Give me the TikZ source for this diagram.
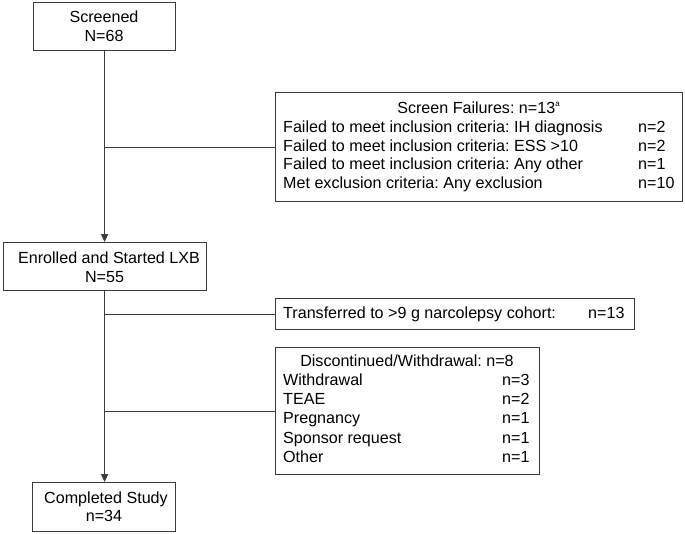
\documentclass[tikz,border=0pt]{standalone}
\usepackage{fontspec}
\setmainfont{Liberation Sans}
\usetikzlibrary{arrows.meta}
\definecolor{ln}{HTML}{3A3A3A}
\frenchspacing
\begin{document}
\begin{tikzpicture}[x=1pt,y=-1pt,
  box/.style={draw=ln,line width=1.2pt,inner sep=0pt,anchor=north west},
  txt/.style={inner sep=0pt,font=\fontsize{16.1}{18}\selectfont,text=black},
  conn/.style={draw=ln,line width=1.2pt},
  arr/.style={conn,-{Triangle[length=8pt,width=7pt]}}]
\useasboundingbox (0,0) rectangle (685,533);
% boxes
\node[box,minimum width=142pt,minimum height=48pt] (scr) at (33,2) {};
\node[box,minimum width=407pt,minimum height=109pt] (sf) at (275,92) {};
\node[box,minimum width=203pt,minimum height=48pt] (enr) at (3,242) {};
\node[box,minimum width=359pt,minimum height=31pt] (tr) at (275,298) {};
\node[box,minimum width=264pt,minimum height=127pt] (dw) at (275,347) {};
\node[box,minimum width=143pt,minimum height=49pt] (cmp) at (32,482) {};
% texts
\node[txt,anchor=base] (t1) at (104,22.5) {Screened};
\node[txt,anchor=base] (t2) at (104,41) {N=68};
\node[txt,anchor=base] (t3) at (478.5,113.5) {Screen Failures: n=13\raisebox{0.45em}{\fontsize{8}{8}\selectfont a}};
\node[txt,anchor=base west] (t4) at (283,132.5) {Failed to meet inclusion criteria: IH diagnosis};
\node[txt,anchor=base west] (t5) at (283,151) {Failed to meet inclusion criteria: ESS >10};
\node[txt,anchor=base west] (t6) at (283,169.5) {Failed to meet inclusion criteria: Any other};
\node[txt,anchor=base west] (t7) at (283,188) {Met exclusion criteria: Any exclusion};
\node[txt,anchor=base west] (n4) at (638,132.5) {n=2};
\node[txt,anchor=base west] (n5) at (638,151) {n=2};
\node[txt,anchor=base west] (n6) at (638,169.5) {n=1};
\node[txt,anchor=base west] (n7) at (638,188) {n=10};
\node[txt,anchor=base] (t8) at (109,263.5) {Enrolled and Started LXB};
\node[txt,anchor=base] (t9) at (104.5,282) {N=55};
\node[txt,anchor=base west] (t10) at (283,318.5) {Transferred to >9 g narcolepsy cohort:};
\node[txt,anchor=base west] (n10) at (588,318.5) {n=13};
\node[txt,anchor=base] (t11) at (407,366) {Discontinued/Withdrawal: n=8};
\node[txt,anchor=base west] (t12) at (283,385.5) {Withdrawal};
\node[txt,anchor=base west] (t13) at (283,404.5) {TEAE};
\node[txt,anchor=base west] (t14) at (283,423.7) {Pregnancy};
\node[txt,anchor=base west] (t15) at (283,443) {Sponsor request};
\node[txt,anchor=base west] (t16) at (283,462.5) {Other};
\node[txt,anchor=base west] (n12) at (502,385.5) {n=3};
\node[txt,anchor=base west] (n13) at (502,404.5) {n=2};
\node[txt,anchor=base west] (n14) at (502,423.7) {n=1};
\node[txt,anchor=base west] (n15) at (502,443) {n=1};
\node[txt,anchor=base west] (n16) at (502,462.5) {n=1};
\node[txt,anchor=base] (t17) at (106,503) {Completed Study};
\node[txt,anchor=base] (t18) at (104,521.7) {n=34};
% connectors
\coordinate (j1) at (scr.south |- sf.west);
\coordinate (j2) at (scr.south |- tr.west);
\coordinate (j3) at (scr.south |- dw.west);
\draw[arr] (scr.south) -- (scr.south |- enr.north);
\draw[conn] (j1) -- (sf.west);
\draw[arr] (scr.south |- enr.south) -- (scr.south |- cmp.north);
\draw[conn] (j2) -- (tr.west);
\draw[conn] (j3) -- (dw.west);
\end{tikzpicture}
\end{document}
